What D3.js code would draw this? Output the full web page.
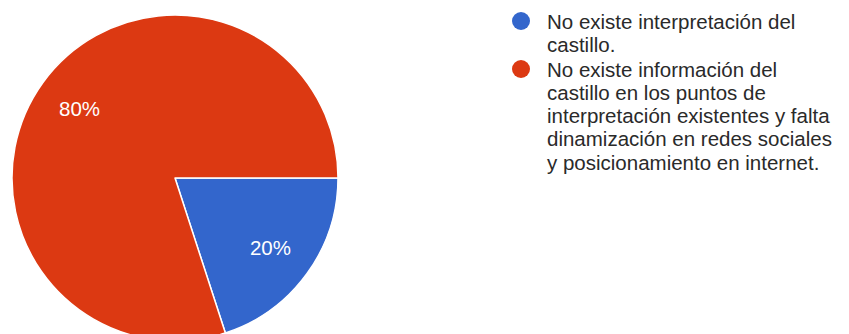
<!DOCTYPE html>
<html>
<head>
<meta charset="utf-8">
<script src="https://cdn.jsdelivr.net/npm/d3@7"></script>
<style>
  html, body { margin: 0; padding: 0; background: #ffffff; }
  svg { display: block; }
</style>
</head>
<body>
<svg id="chart" width="849" height="334"></svg>
<script>
// Survey answers and their shares (percent)
const categories = [
  "No existe interpretación del castillo.",
  "No existe información del castillo en los puntos de interpretación existentes y falta dinamización en redes sociales y posicionamiento en internet."
];
const values = [20, 80];
const colors = ["#3366cc", "#dc3912"];
// Legend text broken into lines as shown
const legendLines = [
  ["No existe interpretación del", "castillo."],
  ["No existe información del", "castillo en los puntos de", "interpretación existentes y falta", "dinamización en redes sociales", "y posicionamiento en internet."]
];

const svg = d3.select("#chart");
const font = "'Liberation Sans', Arial, Helvetica, sans-serif";

const cx = 175, cy = 178, R = 163, labelR = 118;

const pie = d3.pie()
  .sort(null)
  .value(d => d.value)
  .startAngle(Math.PI / 2)
  .endAngle(Math.PI / 2 + 2 * Math.PI);

const data = categories.map((c, i) => ({ name: c, value: values[i], color: colors[i] }));
const arcs = pie(data);

const arc = d3.arc().innerRadius(0).outerRadius(R);
const labelArc = d3.arc().innerRadius(labelR).outerRadius(labelR);

const g = svg.append("g").attr("transform", `translate(${cx},${cy})`);

g.selectAll("path")
  .data(arcs)
  .join("path")
  .attr("d", arc)
  .attr("fill", d => d.data.color)
  .attr("stroke", "#ffffff")
  .attr("stroke-width", 1.5)
  .attr("stroke-linejoin", "round");

const total = d3.sum(values);
g.selectAll("text.pct")
  .data(arcs)
  .join("text")
  .attr("class", "pct")
  .attr("transform", d => `translate(${labelArc.centroid(d)})`)
  .attr("text-anchor", "middle")
  .attr("dy", "0.36em")
  .attr("fill", "#ffffff")
  .attr("font-family", font)
  .attr("font-size", 20.5)
  .text(d => Math.round(d.data.value / total * 100) + "%");

// Legend
const legendX = 521, textX = 547, lineH = 23.3;
const legendTop = [28.5, 76.5];
const legend = svg.append("g");
legendLines.forEach((lines, i) => {
  const y0 = legendTop[i];
  legend.append("circle")
    .attr("cx", legendX)
    .attr("cy", y0 - 7.5)
    .attr("r", 9)
    .attr("fill", colors[i]);
  const t = legend.append("text")
    .attr("font-family", font)
    .attr("font-size", 20.5)
    .attr("fill", "#2a2a2a");
  lines.forEach((ln, j) => {
    t.append("tspan")
      .attr("x", textX)
      .attr("y", y0 + j * lineH)
      .text(ln);
  });
});
</script>
</body>
</html>
